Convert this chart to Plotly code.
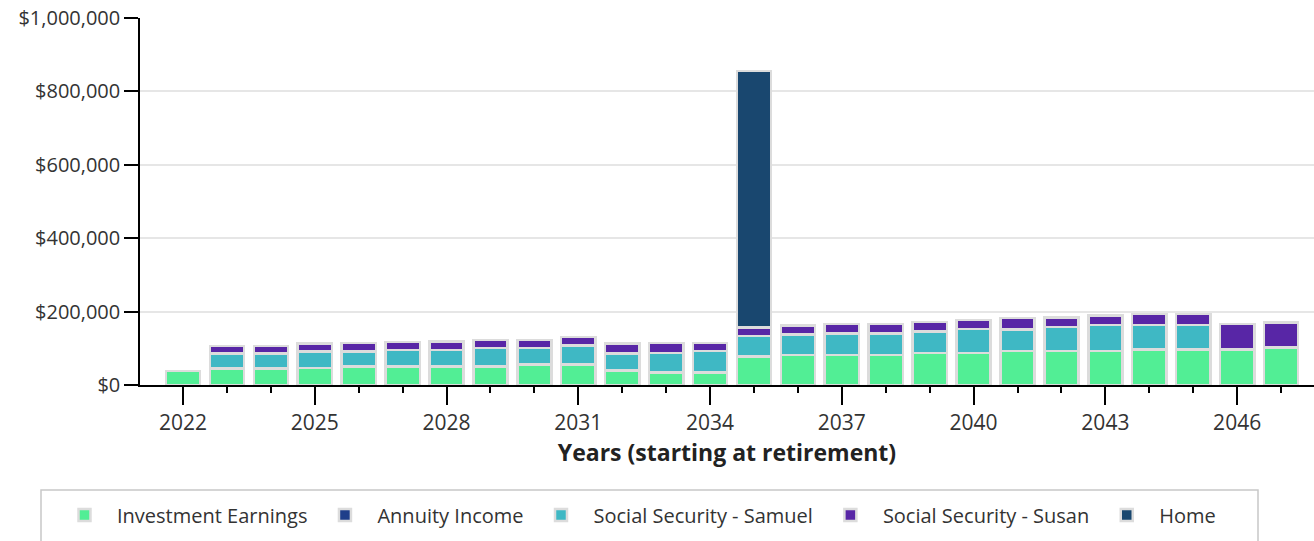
import plotly.graph_objects as go

years = list(range(2022, 2048))
investment = [38000, 45500, 45500, 46000, 50000, 50000, 50000, 50000, 55500, 55500,
              39000, 34000, 34000, 77000, 82000, 82000, 82000, 87000, 87000, 92000,
              92000, 92000, 97000, 97000, 97000, 102000]
annuity = [None] * 26
samuel = [None, 41000, 41000, 45500, 41000, 46000, 46000, 51000, 45500, 52000,
          47000, 53000, 58000, 57000, 55000, 59000, 59000, 59000, 65000, 59000,
          66000, 71000, 66000, 66000, None, None]
susan = [None, 20000, 20000, 21000, 23000, 21000, 22000, 22000, 22000, 23000,
         27000, 27000, 22000, 23000, 25000, 25000, 25000, 25000, 25000, 31000,
         26000, 26000, 31000, 31000, 69000, 68000]
home = [None] * 13 + [698000] + [None] * 12

series = [
    ("Investment Earnings", investment, "#52EE95"),
    ("Annuity Income", annuity, "#1F3F8A"),
    ("Social Security - Samuel", samuel, "#3FB8C4"),
    ("Social Security - Susan", susan, "#5826A6"),
    ("Home", home, "#19476F"),
]

W, H = 1314, 541
# screen-space plot box
L, T, SB = 140, 18, 385
B = H - SB
R = 0
pw, ph = W - L - R, H - T - B

def px_x(x):
    return (x - L) / pw

def px_y(y):
    return (H - B - y) / ph

fig = go.Figure()
for name, vals, col in series:
    fig.add_trace(go.Bar(
        x=years, y=vals, name=name, width=0.78,
        marker=dict(color=col, line=dict(color="#DCDCDC", width=2.5)),
    ))

font = "Open Sans"
fig.update_layout(
    width=W, height=H,
    margin=dict(l=L, r=R, t=T, b=B, autoexpand=False),
    barmode="stack",
    plot_bgcolor="white", paper_bgcolor="white",
    font=dict(family=font, size=20, color="#333333"),
    showlegend=True,
    legend=dict(
        orientation="h", x=px_x(52), xanchor="left",
        y=px_y(515), yanchor="middle",
        font=dict(family=font, size=20, color="#333333"),
        traceorder="normal", itemwidth=55,
        bgcolor="rgba(0,0,0,0)",
    ),
    xaxis=dict(
        range=[2021.02, 2047.75],
        tick0=2022, dtick=3,
        ticks="outside", ticklen=18, tickcolor="black", tickwidth=1.5,
        showline=True, linecolor="black", linewidth=1.5,
        showgrid=False, zeroline=False,
        tickfont=dict(family=font, size=21, color="#333333"),
        minor=dict(dtick=1, ticks="outside", ticklen=6, tickcolor="black", tickwidth=1.5, showgrid=False),
        title=dict(text="<b>Years (starting at retirement)</b>",
                   font=dict(family=font, size=23, color="#222222"), standoff=10),
    ),
    yaxis=dict(
        range=[0, 1000000], dtick=200000,
        tickformat="$,.0f",
        ticks="outside", ticklen=14, tickcolor="black", tickwidth=1.5,
        showline=True, linecolor="black", linewidth=1.5,
        showgrid=True, gridcolor="#E6E6E6", gridwidth=1.5,
        zeroline=False,
        ticklabeloverflow="allow",
        tickfont=dict(family=font, size=20, color="#333333"),
    ),
    shapes=[dict(
        type="rect", xref="paper", yref="paper",
        x0=px_x(41), x1=px_x(1258), y0=px_y(560), y1=px_y(490),
        line=dict(color="#C8C8C8", width=1.5), fillcolor="rgba(0,0,0,0)",
    )],
)

fig.write_html(
    "out.html",
    config={"displayModeBar": False},
    post_script="document.body.style.margin='0';document.body.style.overflow='hidden';",
)
